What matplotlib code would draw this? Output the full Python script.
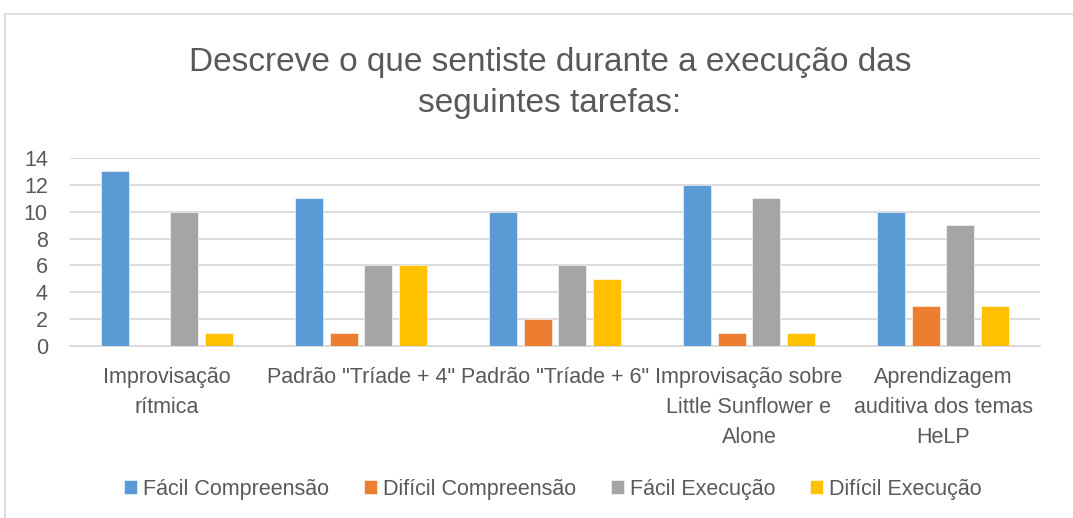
import matplotlib
matplotlib.use("Agg")
import matplotlib.pyplot as plt
import numpy as np
from matplotlib.patches import Rectangle

categories = ["Improvisação\nrítmica", 'Padrão "Tríade + 4"', 'Padrão "Tríade + 6"',
              "Improvisação sobre\nLittle Sunflower e\nAlone", "Aprendizagem\nauditiva dos temas\nHeLP"]
series_names = ["Fácil Compreensão", "Difícil Compreensão", "Fácil Execução", "Difícil Execução"]
facil_compreensao = [13, 11, 10, 12, 10]
dificil_compreensao = [0, 1, 2, 1, 3]
facil_execucao = [10, 6, 6, 11, 9]
dificil_execucao = [1, 6, 5, 1, 3]
yticks = [0, 2, 4, 6, 8, 10, 12, 14]

colors = ["#5B9BD5", "#ED7D31", "#A5A5A5", "#FFC000"]
series = [facil_compreensao, dificil_compreensao, facil_execucao, dificil_execucao]

plt.rcParams['font.family'] = ['Liberation Sans', 'DejaVu Sans']
txt = "#595959"

fig = plt.figure(figsize=(10.73, 5.18), dpi=100)
W, H = 1073, 518
ax = fig.add_axes([70 / W, 1 - 346 / H, (1040 - 70) / W, (346 - 158) / H])

x = np.arange(len(categories))
bw = 0.142
step = 0.178
for i, (vals, c, name) in enumerate(zip(series, colors, series_names)):
    ax.bar(x + (i - 1.5) * step, vals, width=bw, color=c, label=name, zorder=3,
           edgecolor="white", linewidth=0.4)

ax.set_xlim(-0.5, len(categories) - 0.5)
ax.set_ylim(0, 14)
ax.set_yticks(yticks)
ax.set_xticks(x)
ax.set_xticklabels(categories, fontsize=15.5, color=txt, linespacing=1.56)
ax.tick_params(axis='x', length=0, colors=txt, labelsize=15.5, pad=15)
ax.tick_params(axis='y', length=0, colors=txt, labelsize=15.5, pad=16)
ax.yaxis.grid(True, color="#D9D9D9", linewidth=1.3, zorder=0)
for s in ["top", "right", "left"]:
    ax.spines[s].set_visible(False)
ax.spines["bottom"].set_color("#D9D9D9")
ax.spines["bottom"].set_linewidth(1.3)

fig.text(550 / W, 1 - 83 / H, "Descreve o que sentiste durante a execução das\nseguintes tarefas:",
         ha="center", va="center", fontsize=24, color=txt, linespacing=1.38)

handles, labels = ax.get_legend_handles_labels()
fig.legend(handles, labels, loc="center", bbox_to_anchor=(553 / W, 1 - 489 / H), ncol=4,
           frameon=False, fontsize=15.5, handlelength=0.6, handleheight=0.6,
           handletextpad=0.3, columnspacing=1.6, labelcolor=txt)

fig.patches.append(Rectangle((5 / W, -0.1), 1.2, 1 - 14 / H + 0.1, transform=fig.transFigure,
                             fill=False, edgecolor="#D9D9D9", linewidth=1.2))

fig.savefig("out.png", dpi=100)
